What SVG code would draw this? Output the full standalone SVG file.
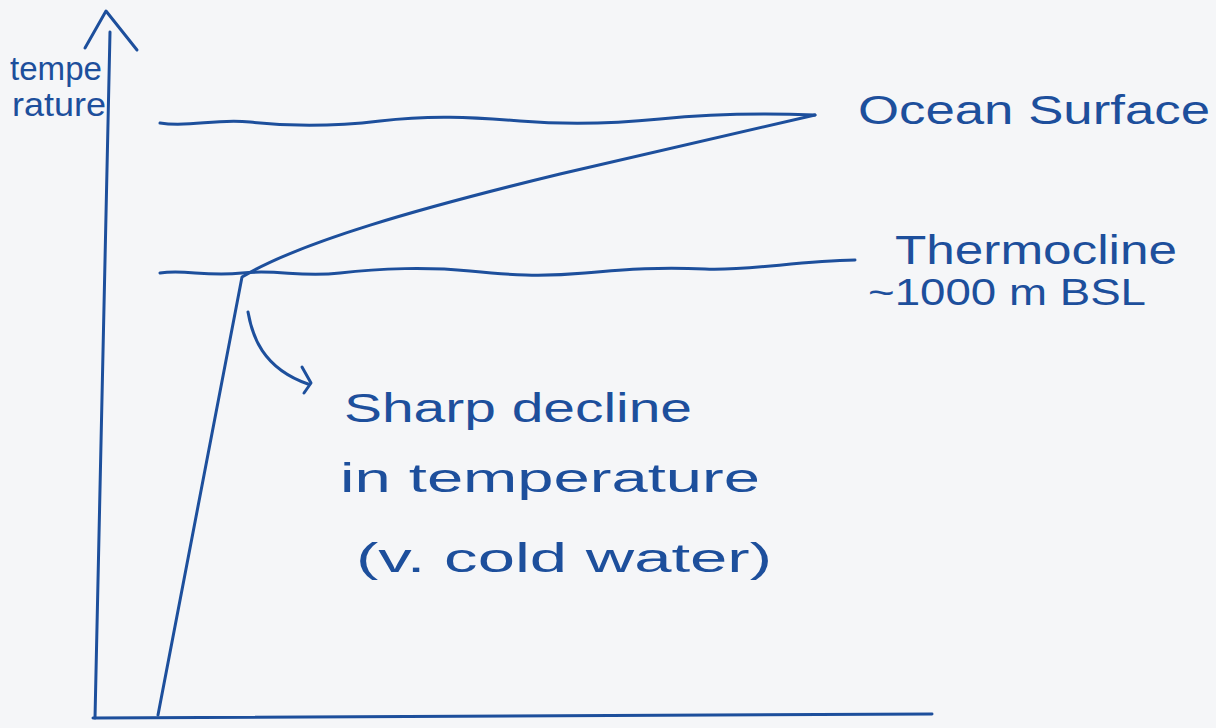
<svg xmlns="http://www.w3.org/2000/svg" width="1216" height="728" viewBox="0 0 1216 728">
<style>
.ink{fill:none;stroke:#1d4f9c;stroke-width:3;stroke-linecap:round;stroke-linejoin:round}
.lbl{font-family:"Liberation Sans","DejaVu Sans",sans-serif;fill:#1d4f9c}
</style>
<rect width="1216" height="728" fill="#f5f6f8"/>
<g id="axes">
<path class="ink" d="M95,718 L110,32"/>
<path class="ink" d="M85,48 L106,11 L137,50"/>
<path class="ink" d="M93,718 C300,717 600,716 932,714"/>
</g>
<g id="y-label">
<text class="lbl" x="10" y="80" font-size="34" textLength="92" lengthAdjust="spacingAndGlyphs">tempe</text>
<text class="lbl" x="12" y="116" font-size="34" textLength="94" lengthAdjust="spacingAndGlyphs">rature</text>
</g>
<g id="connectors">
<path id="ocean-surface-line" class="ink" d="M160,123 C190,128 215,118 250,122 S330,127 380,121 S470,117 520,121 S610,124 660,119 S760,113 815,115"/>
<path id="thermocline-line" class="ink" d="M160,273 C185,269 205,277 242,273 S300,278 340,273 S430,267 470,271 S540,277 585,273 S660,267 705,269 S795,261 855,260"/>
<path id="temperature-curve" class="ink" d="M158,715 L242,277 C300,242 420,208 560,174 C680,146 760,128 815,115"/>
<path id="pointer" class="ink" d="M248,312 C252,335 262,368 308,384"/>
<path class="ink" d="M302,367 L311,383 L304,393"/>
</g>
<g id="ocean-surface">
<text class="lbl" x="858" y="124" font-size="40" textLength="352" lengthAdjust="spacingAndGlyphs">Ocean Surface</text>
</g>
<g id="thermocline">
<text class="lbl" x="895" y="264" font-size="40" textLength="282" lengthAdjust="spacingAndGlyphs">Thermocline</text>
<text class="lbl" x="868" y="305" font-size="36" textLength="278" lengthAdjust="spacingAndGlyphs">~1000 m BSL</text>
</g>
<g id="sharp-decline">
<text class="lbl" x="344" y="422" font-size="40" textLength="348" lengthAdjust="spacingAndGlyphs">Sharp decline</text>
<text class="lbl" x="340" y="492" font-size="40" textLength="420" lengthAdjust="spacingAndGlyphs">in temperature</text>
<text class="lbl" x="356" y="572" font-size="40" textLength="416" lengthAdjust="spacingAndGlyphs">(v. cold water)</text>
</g>
</svg>
